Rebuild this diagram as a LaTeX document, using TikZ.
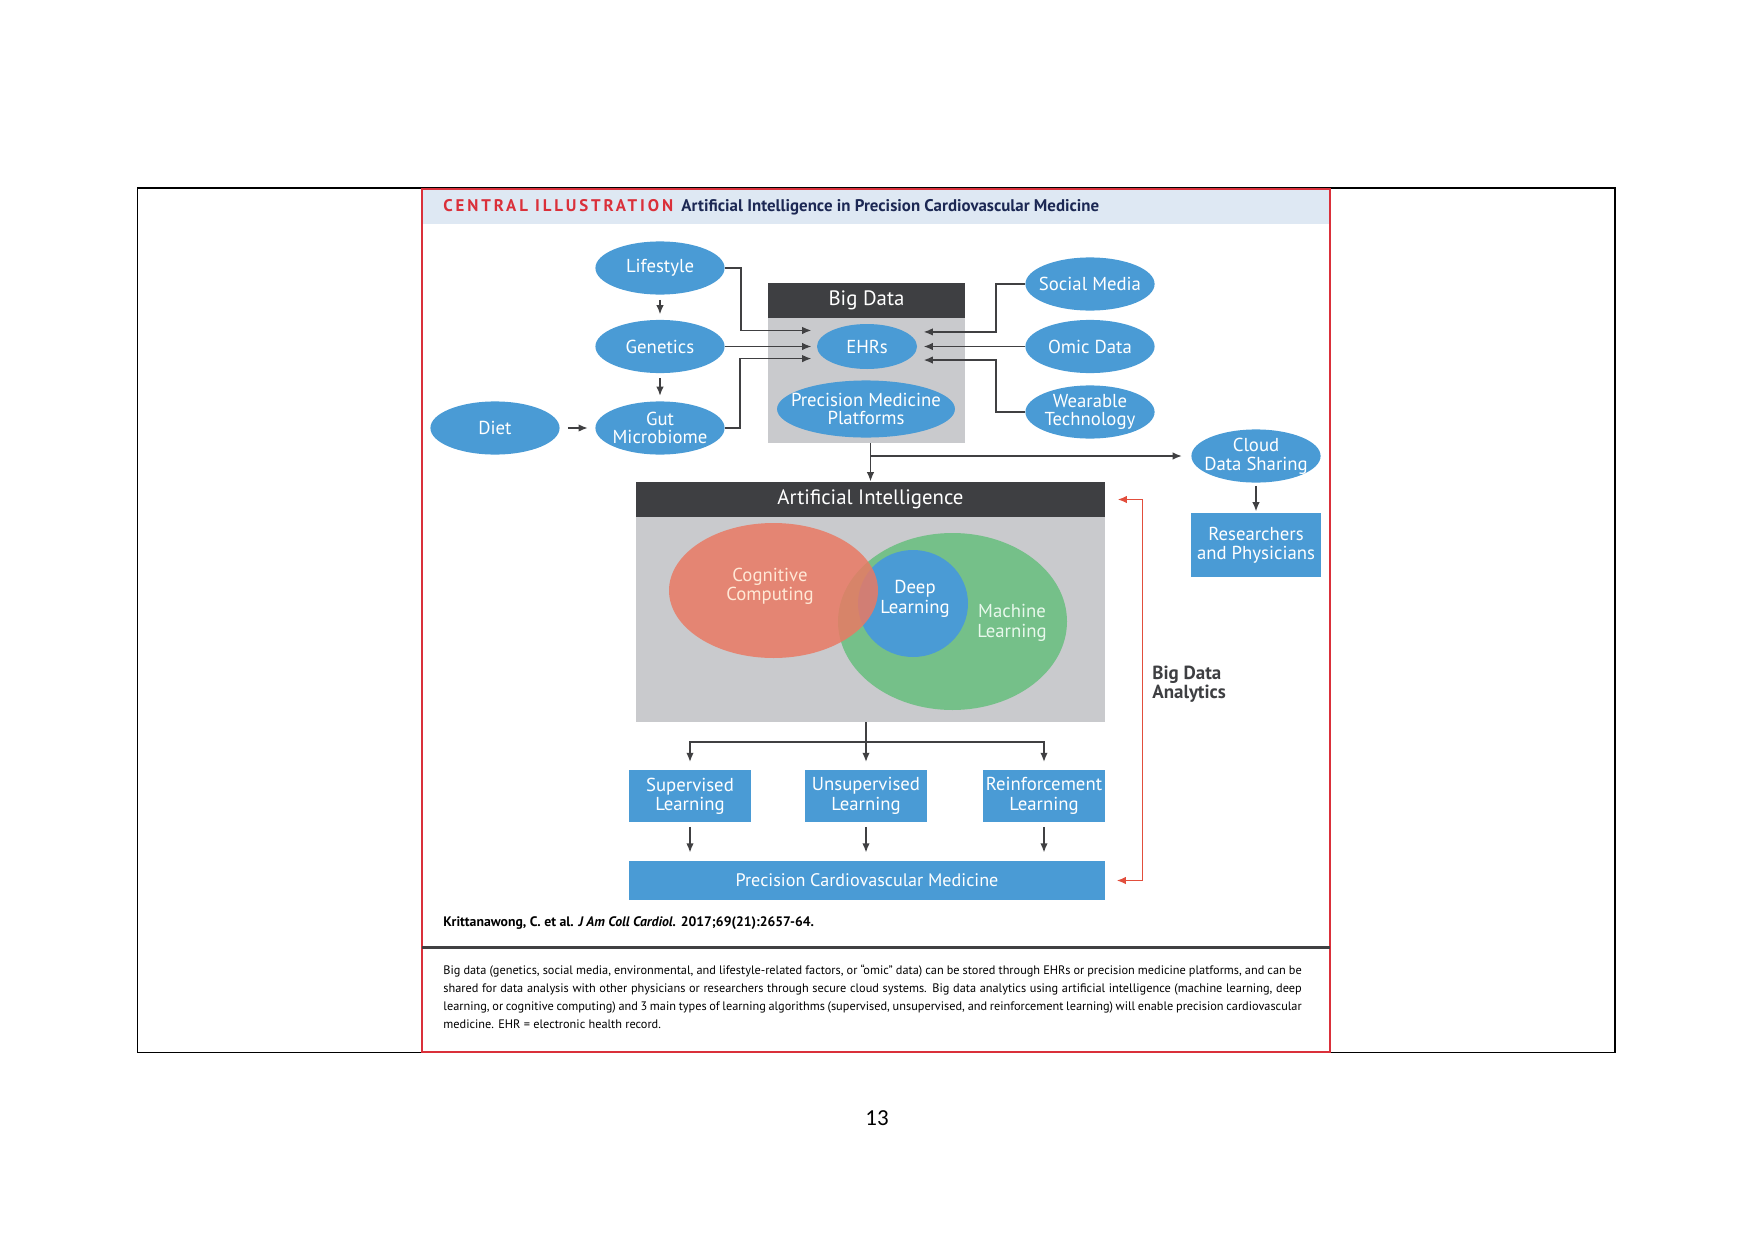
\documentclass[tikz,border=0pt]{standalone}
\usepackage{fontspec}
\setmainfont{PT Sans}
\newfontfamily\pagefont{Carlito}
\usetikzlibrary{shapes.geometric,arrows.meta}
\definecolor{aiblue}{RGB}{74,155,213}
\definecolor{aidark}{RGB}{62,63,66}
\definecolor{aigrey}{RGB}{201,202,205}
\definecolor{aired}{RGB}{233,122,100}
\definecolor{aigreen}{RGB}{117,192,137}
\definecolor{cogtext}{RGB}{255,232,214}
\definecolor{mltext}{RGB}{232,248,236}
\definecolor{arrred}{RGB}{226,78,60}
\definecolor{framered}{RGB}{218,48,58}
\definecolor{titleband}{RGB}{222,232,243}
\definecolor{titlenavy}{RGB}{28,40,84}
\definecolor{linegrey}{RGB}{64,64,66}

\begin{document}
\begin{tikzpicture}[x=0.48pt,y=-0.48pt,
  blob/.style={ellipse,fill=aiblue,text=white,inner sep=-12pt,align=center,minimum width=62pt,minimum height=25.5pt,font=\fontsize{9}{9}\selectfont},
  bluebox/.style={rectangle,fill=aiblue,text=white,inner sep=0pt,align=center,font=\fontsize{9}{9.3}\selectfont},
  head/.style={rectangle,fill=aidark,text=white,inner sep=0pt,font=\fontsize{10}{11}\selectfont},
  panel/.style={rectangle,fill=aigrey,inner sep=0pt},
  venntext/.style={align=center,inner sep=0pt,font=\fontsize{9}{9.3}\selectfont},
  arr/.style={draw=linegrey,line width=0.85pt,-{Latex[length=4.5pt,width=3.6pt]}},
  redarr/.style={draw=arrred,line width=0.85pt,{Latex[length=4.5pt,width=3.6pt]}-{Latex[length=4.5pt,width=3.6pt]}}]

\useasboundingbox (0,0) rectangle (1754,1241);
% page frame and title band
\draw[line width=0.5pt] (137.5,188) rectangle (1615,1052.5);
\fill[titleband] (422,189) rectangle (1330,224);
\draw[framered,line width=1pt] (422,189) rectangle (1330,1052);
\node[anchor=west,inner sep=0pt,font=\fontsize{8.1}{9}\selectfont\bfseries] (title) at (443,207.5)
  {\textcolor{framered}{\addfontfeature{LetterSpace=17}CENTRAL ILLUSTRATION}\hspace{4pt}\textcolor{titlenavy}{Artificial Intelligence in Precision Cardiovascular Medicine}};

% big data
\node[panel,minimum width=94.6pt,minimum height=60pt] (bdbox) at (866.5,380.5) {};
\node[head,minimum width=94.6pt,minimum height=16.8pt] (bdhead) at (866.5,300.5) {Big Data};
\node[blob] (life) at (660,268) {Lifestyle};
\node[blob] (gen) at (660,346.5) {Genetics};
\node[blob] (gut) at (660,428) {Gut\\Microbiome};
\node[blob] (diet) at (495,428) {Diet};
\node[blob,minimum width=48pt,minimum height=21.6pt] (ehr) at (867,346.5) {EHRs};
\node[blob,minimum width=85.4pt,minimum height=27.4pt] (pmp) at (866,409) {Precision Medicine\\Platforms};
\node[blob] (social) at (1090,284) {Social Media};
\node[blob] (omic) at (1090,346.5) {Omic Data};
\node[blob] (wear) at (1090,412) {Wearable\\Technology};
\node[blob] (cloud) at (1256,456) {Cloud\\Data Sharing};
\node[bluebox,minimum width=62.4pt,minimum height=30.7pt] (resph) at (1256,545) {Researchers\\and Physicians};

\draw[arr,shorten <=2.4pt,shorten >=2.4pt] (life) -- (gen);
\draw[arr,shorten <=2.4pt,shorten >=2.4pt] (gen) -- (gut);
\draw[arr,shorten <=3.8pt,shorten >=3.4pt] (diet) -- (gut);
\draw[arr] (life.east) -- ++(16,0) |- ([xshift=-2.4pt,yshift=7.7pt]ehr.west);
\draw[arr] (gen.east) -- ([xshift=-2.4pt]ehr.west);
\draw[arr] (gut.east) -- ++(15,0) |- ([xshift=-2.4pt,yshift=-5.8pt]ehr.west);
\draw[arr] (social.west) -- ++(-29,0) |- ([xshift=2.9pt,yshift=7pt]ehr.east);
\draw[arr] (omic.west) -- ([xshift=2.9pt]ehr.east);
\draw[arr] (wear.west) -- ++(-29,0) |- ([xshift=2.9pt,yshift=-6.5pt]ehr.east);

% artificial intelligence
\node[panel,minimum width=225.1pt,minimum height=98.4pt] (aibox) at (870.5,619.5) {};
\node[head,minimum width=225.1pt,minimum height=16.8pt] (aihead) at (870.5,499.5) {Artificial Intelligence};
\fill[aigreen] (952.5,621.5) ellipse [x radius=114.5, y radius=88.5];
\fill[aiblue] (913,603.5) ellipse [x radius=55, y radius=53.5];
\fill[aired,fill opacity=0.85] (773.5,590.5) ellipse [x radius=104.5, y radius=67.5];
\node[venntext,text=cogtext] (cogn) at (770,586) {Cognitive\\Computing};
\node[venntext,text=white] (deep) at (915,599) {Deep\\Learning};
\node[venntext,text=mltext] (mach) at (1012,623) {Machine\\Learning};

\draw[arr] (bdbox.south -| aihead.north) -- (aihead.north);
\draw[arr] (cloud.west -| aihead.north) -- ([xshift=-4.3pt]cloud.west);
\draw[arr,shorten <=1.4pt,shorten >=0.5pt] (cloud) -- (resph);

% learning types
\node[bluebox,minimum width=58.6pt,minimum height=24.5pt] (sup) at (690,796) {Supervised\\Learning};
\node[bluebox,minimum width=58.6pt,minimum height=24.5pt] (unsup) at (866,796) {Unsupervised\\Learning};
\node[bluebox,minimum width=58.6pt,minimum height=24.5pt] (reinf) at (1044,796) {Reinforcement\\Learning};
\node[bluebox,minimum width=228.5pt,minimum height=18.7pt,font=\fontsize{8.7}{9}\selectfont] (pcm) at (867,880.5) {Precision Cardiovascular Medicine};
\coordinate (split) at ([yshift=13.4pt]unsup.north);
\draw[arr] (aibox.south -| unsup.north) -- ([yshift=3.8pt]unsup.north);
\draw[arr] (split) -| ([yshift=3.8pt]sup.north);
\draw[arr] (split) -| ([yshift=3.8pt]reinf.north);
\foreach \n in {sup,unsup,reinf}
  \draw[arr] ([yshift=-2.4pt]\n.south) -- ([yshift=3.8pt]\n.south |- pcm.north);
\draw[redarr] ([xshift=5.8pt]aihead.east) -- ++(25,0) |- ([xshift=5.3pt]pcm.east);
\node[anchor=west,align=left,inner sep=0pt,text=aidark,font=\fontsize{9.1}{9.3}\selectfont\bfseries] (bda) at (1152,684) {Big Data\\Analytics};

% source and caption
\node[anchor=west,inner sep=0pt,font=\fontsize{6.6}{8}\selectfont\bfseries] (cite) at (443,923) {Krittanawong, C. et al. \textit{J Am Coll Cardiol.} 2017;69(21):2657-64.};
\draw[linegrey,line width=1pt] (422,947.5) -- (1330,947.5);
\node[anchor=north west,inner sep=0pt,text width=412pt,align=justify,font=\fontsize{5.9}{8.6}\selectfont] (capt) at (443,965)
  {\hyphenpenalty=10000 Big data (genetics, social media, environmental, and lifestyle-related factors, or ``omic'' data) can be stored through EHRs or precision medicine platforms, and can be\linebreak
  shared for data analysis with other physicians or researchers through secure cloud systems. Big data analytics using artificial intelligence (machine learning, deep\linebreak
  learning, or cognitive computing) and 3 main types of learning algorithms (supervised, unsupervised, and reinforcement learning) will enable precision cardiovascular\linebreak
  medicine. EHR = electronic health record.};
\node[font=\pagefont\fontsize{11}{13}\selectfont] (pgno) at (877,1118) {13};
\end{tikzpicture}
\end{document}
